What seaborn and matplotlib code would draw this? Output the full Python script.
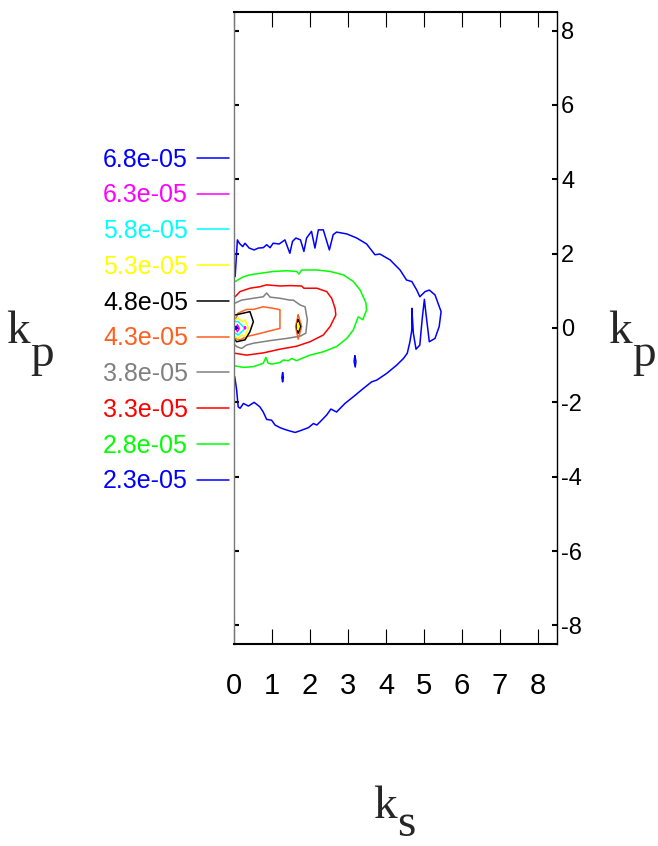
"""
Contour map of k_p against k_s with ten levels and a colour-keyed level list
at the left of the frame.
"""

## Import packages
import pandas as pd
import matplotlib
matplotlib.use('Agg')
import matplotlib.pyplot as plt
from matplotlib.lines import Line2D
import seaborn as sns


## Data (k_s, k_p) for every contour piece
levels = ['6.8e-05', '6.3e-05', '5.8e-05', '5.3e-05', '4.8e-05',
          '4.3e-05', '3.8e-05', '3.3e-05', '2.8e-05', '2.3e-05']
level_colors = ['#0000ff', '#ff00ff', '#00ffff', '#ffff00', '#000000',
                '#ff5f1f', '#808080', '#ff0000', '#00ff00', '#0000ff']

# 2.3e-05 (outer blue)
ks_23 = [0.03, 0.09, 0.14, 0.23, 0.29, 0.40, 0.53, 0.64, 0.77, 0.86, 0.95, 1.03,
         1.19, 1.34, 1.47, 1.54, 1.63, 1.75, 1.84, 1.91, 2.04, 2.13, 2.22, 2.35,
         2.51, 2.61, 2.70, 2.97, 3.23, 3.49, 3.71, 3.84, 4.11, 4.37, 4.54, 4.68,
         4.81, 4.89, 5.03, 5.14, 5.29, 5.45, 5.40, 5.29, 5.14, 5.05, 5.01, 4.95,
         4.89, 4.79, 4.72, 4.68, 4.68, 4.63, 4.56, 4.46, 4.28, 4.02, 3.76, 3.62,
         3.40, 3.14, 2.92, 2.70, 2.55, 2.44, 2.26, 2.18, 2.09, 1.96, 1.78, 1.61,
         1.47, 1.34, 1.21, 1.08, 0.99, 0.86, 0.77, 0.68, 0.53, 0.38, 0.25, 0.16,
         0.11, 0.07, 0.02]
kp_23 = [1.38, 2.37, 2.28, 2.19, 2.28, 2.15, 2.10, 2.15, 2.16, 2.24, 2.16, 2.28,
         2.26, 2.37, 2.01, 2.33, 2.42, 2.37, 2.06, 2.42, 2.60, 2.15, 2.64, 2.64,
         2.10, 2.51, 2.58, 2.53, 2.42, 2.26, 1.97, 1.99, 1.83, 1.56, 1.29, 1.25,
         1.02, 0.84, 0.98, 1.02, 0.89, 0.44, 0.04, -0.28, -0.37, 0.40, 0.77, 0.22,
         -0.46, -0.57, -0.14, 0.53, -0.05, -0.37, -0.68, -0.82, -1.00, -1.22, -1.40, -1.45,
         -1.63, -1.85, -2.03, -2.26, -2.18, -2.34, -2.53, -2.61, -2.57, -2.68, -2.75, -2.81,
         -2.77, -2.73, -2.68, -2.61, -2.48, -2.46, -2.26, -2.12, -2.00, -2.10, -2.03, -2.16,
         -2.12, -1.67, -1.31]
ks_23_isle_a = [3.18, 3.21, 3.19, 3.16, 3.18]
kp_23_isle_a = [-0.75, -0.90, -1.05, -0.90, -0.75]
ks_23_isle_b = [1.28, 1.30, 1.28, 1.26, 1.28]
kp_23_isle_b = [-1.20, -1.33, -1.45, -1.33, -1.20]

# 2.8e-05 (green)
ks_28 = [0.03, 0.25, 0.42, 0.68, 1.03, 1.39, 1.65, 1.71, 1.78, 2.18, 2.53, 2.88,
         3.14, 3.32, 3.40, 3.47, 3.49, 3.39, 3.27, 3.14, 2.97, 2.70, 2.35, 2.00,
         1.78, 1.65, 1.52, 1.43, 1.30, 1.21, 0.99, 0.90, 0.84, 0.77, 0.51, 0.25, 0.03]
kp_28 = [1.25, 1.38, 1.43, 1.47, 1.52, 1.54, 1.52, 1.45, 1.56, 1.56, 1.52, 1.43,
         1.25, 1.02, 0.84, 0.68, 0.49, 0.22, 0.30, -0.05, -0.28, -0.50, -0.64, -0.73,
         -0.82, -0.88, -0.82, -0.88, -0.86, -0.93, -0.97, -0.95, -0.79, -0.95, -1.04, -1.06, -1.02]

# 3.3e-05 (red)
ks_33 = [0.03, 0.16, 0.42, 0.68, 0.86, 1.21, 1.47, 1.78, 1.84, 2.18, 2.44, 2.57,
         2.66, 2.68, 2.53, 2.35, 2.00, 1.65, 1.21, 0.77, 0.33, 0.03]
kp_33 = [0.84, 0.98, 1.07, 1.11, 1.16, 1.13, 1.14, 1.13, 1.07, 1.07, 0.98, 0.80,
         0.53, 0.35, 0.04, -0.19, -0.37, -0.49, -0.57, -0.67, -0.73, -0.68]

# 3.8e-05 (grey)
ks_38 = [0.03, 0.20, 0.51, 0.77, 0.86, 0.95, 1.21, 1.47, 1.56, 1.74, 1.87, 1.93,
         1.89, 1.74, 1.39, 0.95, 0.51, 0.33, 0.20, 0.07, 0.03]
kp_38 = [0.67, 0.75, 0.80, 0.84, 0.94, 0.83, 0.80, 0.75, 0.75, 0.62, 0.57, 0.22,
         -0.14, -0.22, -0.28, -0.34, -0.41, -0.46, -0.55, -0.50, -0.46]

# 4.3e-05 (orange)
ks_43 = [0.03, 0.11, 0.33, 0.51, 0.77, 1.03, 1.21, 1.21, 0.86, 0.51, 0.33, 0.16, 0.03]
kp_43 = [0.22, 0.40, 0.50, 0.50, 0.57, 0.53, 0.49, -0.01, -0.10, -0.19, -0.23, -0.32, -0.28]
ks_43_peak = [1.69, 1.78, 1.69, 1.62, 1.69]
kp_43_peak = [0.35, 0.04, -0.30, 0.04, 0.35]

# 4.8e-05 (black)
ks_48 = [0.03, 0.25, 0.42, 0.51, 0.42, 0.29, 0.07, 0.03]
kp_48 = [0.35, 0.40, 0.44, 0.17, -0.10, -0.32, -0.37, -0.32]
ks_48_peak = [1.69, 1.75, 1.69, 1.65, 1.69]
kp_48_peak = [0.22, 0.04, -0.14, 0.04, 0.22]

# 5.3e-05 (yellow)
ks_53 = [0.03, 0.11, 0.23, 0.29, 0.38, 0.29, 0.20, 0.11, 0.03]
kp_53 = [0.22, 0.26, 0.17, 0.22, -0.01, -0.23, -0.19, -0.28, -0.23]
ks_53_peak = [1.69, 1.71, 1.69, 1.67, 1.69]
kp_53_peak = [0.13, 0.04, -0.05, 0.04, 0.13]

# 5.8e-05 (cyan)
ks_58 = [0.04, 0.11, 0.20, 0.29, 0.20, 0.11, 0.04]
kp_58 = [0.17, 0.17, 0.08, -0.01, -0.10, -0.19, -0.14]

# 6.3e-05 (magenta)
ks_63 = [0.09, 0.14, 0.09, 0.05, 0.09]
kp_63 = [0.08, -0.01, -0.10, -0.01, 0.08]
ks_63_b = [0.29, 0.31, 0.29, 0.27, 0.29]
kp_63_b = [0.03, 0.00, -0.03, 0.00, 0.03]

# 6.8e-05 (inner blue)
ks_68 = [0.05, 0.07, 0.05, 0.03, 0.05]
kp_68 = [0.04, 0.00, -0.04, 0.00, 0.04]

x_ticks = [0, 1, 2, 3, 4, 5, 6, 7, 8]
y_ticks = [-8, -6, -4, -2, 0, 2, 4, 6, 8]

pieces = [('2.3e-05', ks_23, kp_23), ('2.3e-05', ks_23_isle_a, kp_23_isle_a),
          ('2.3e-05', ks_23_isle_b, kp_23_isle_b), ('2.8e-05', ks_28, kp_28),
          ('3.3e-05', ks_33, kp_33), ('3.8e-05', ks_38, kp_38),
          ('4.3e-05', ks_43, kp_43), ('4.3e-05', ks_43_peak, kp_43_peak),
          ('4.8e-05', ks_48, kp_48), ('4.8e-05', ks_48_peak, kp_48_peak),
          ('5.3e-05', ks_53, kp_53), ('5.3e-05', ks_53_peak, kp_53_peak),
          ('5.8e-05', ks_58, kp_58), ('6.3e-05', ks_63, kp_63),
          ('6.3e-05', ks_63_b, kp_63_b), ('6.8e-05', ks_68, kp_68)]

# Long table: one row per vertex, a piece id keeps the lines apart
rows = []
for i, (lev, xs, ys) in enumerate(pieces):
    for j in range(len(xs)):
        rows.append({'piece': i, 'level': lev, 'order': j, 'ks': xs[j], 'kp': ys[j]})
df = pd.DataFrame(rows)
palette = dict(zip(levels, level_colors))


## Figure
sns.set_theme(style='white')
plt.rcParams['font.family'] = ['Liberation Sans Narrow', 'Liberation Sans', 'DejaVu Sans']
plt.rcParams['axes.unicode_minus'] = False

fig = plt.figure(figsize=(6.58, 8.46), dpi=100)
ax = fig.add_axes([0.3556, 0.2388, 0.4909, 0.7470])

sns.lineplot(ax=ax, data=df, x='ks', y='kp', hue='level', units='piece',
             estimator=None, sort=False, palette=palette, legend=False, linewidth=1.1)

ax.set_xlim(0, 8.5)
ax.set_ylim(-8.5, 8.5)
ax.set_xticks(x_ticks)
ax.set_yticks(y_ticks)
ax.set_xlabel('')
ax.set_ylabel('')

# Ticks: long inward ticks on x, short thick ones on y, y labels on the right
ax.tick_params(axis='x', direction='in', length=10.8, width=0.8, top=True, bottom=True,
               labelsize=21, pad=20, colors='black')
ax.tick_params(axis='y', direction='in', length=3.6, width=1.5, left=True, right=True,
               labelleft=False, labelright=True, labelsize=17, pad=3, colors='black')

for side in ['top', 'bottom']:
    ax.spines[side].set_linewidth(1.5)
    ax.spines[side].set_color('black')
ax.spines['right'].set_linewidth(1.0)
ax.spines['right'].set_color('black')
ax.spines['left'].set_linewidth(1.0)
ax.spines['left'].set_color('#777777')

# Level key, label first and line after it
handles = [Line2D([], [], color=c, linewidth=1.1) for c in level_colors]
ax.legend(handles, levels, loc='center right', bbox_to_anchor=(-0.015, 0.512),
          markerfirst=False, frameon=False, labelcolor='linecolor', fontsize=18,
          handlelength=1.3, handletextpad=0.35, labelspacing=0.47,
          borderpad=0, borderaxespad=0)

# Axis titles: k with a full-size subscript letter
serif = ['Liberation Serif', 'DejaVu Serif']
fig.text(30 / 658, 1 - 343 / 846, 'k', family=serif, fontsize=34, ha='right', va='baseline')
fig.text(30 / 658, 1 - 366 / 846, 'p', family=serif, fontsize=34, ha='left', va='baseline')
fig.text(632 / 658, 1 - 343 / 846, 'k', family=serif, fontsize=34, ha='right', va='baseline')
fig.text(632 / 658, 1 - 366 / 846, 'p', family=serif, fontsize=34, ha='left', va='baseline')
fig.text(397 / 658, 1 - 818 / 846, 'k', family=serif, fontsize=34, ha='right', va='baseline')
fig.text(397 / 658, 1 - 836 / 846, 's', family=serif, fontsize=34, ha='left', va='baseline')

plt.savefig('out.png', dpi=100)
